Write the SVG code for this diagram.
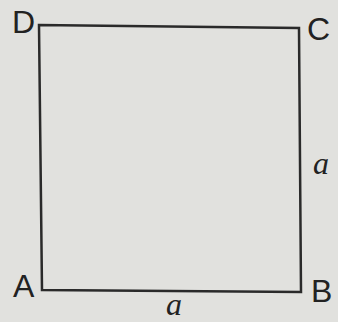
<svg xmlns="http://www.w3.org/2000/svg" width="338" height="322" viewBox="0 0 338 322">
<style>
.lbl{font-family:"Liberation Sans",Arial,sans-serif;font-size:32px;fill:#222}
.var{font-family:"Liberation Serif","Times New Roman",serif;font-style:italic;font-size:32px;fill:#222}
.edge{fill:none;stroke:#2a2a2a;stroke-width:2.5;stroke-linejoin:miter}
</style>
<rect x="0" y="0" width="338" height="322" fill="#e1e1de"/>
<g id="connectors">
<polygon class="edge" points="39,25 299,28 301,292 42,290"/>
</g>
<g id="D"><text class="lbl" x="12" y="33">D</text></g>
<g id="C"><text class="lbl" x="307" y="40">C</text></g>
<g id="A"><text class="lbl" x="13" y="297">A</text></g>
<g id="B"><text class="lbl" x="311" y="302">B</text></g>
<g id="a-bottom"><text class="var" x="166" y="315">a</text></g>
<g id="a-right"><text class="var" x="313" y="174">a</text></g>
</svg>
